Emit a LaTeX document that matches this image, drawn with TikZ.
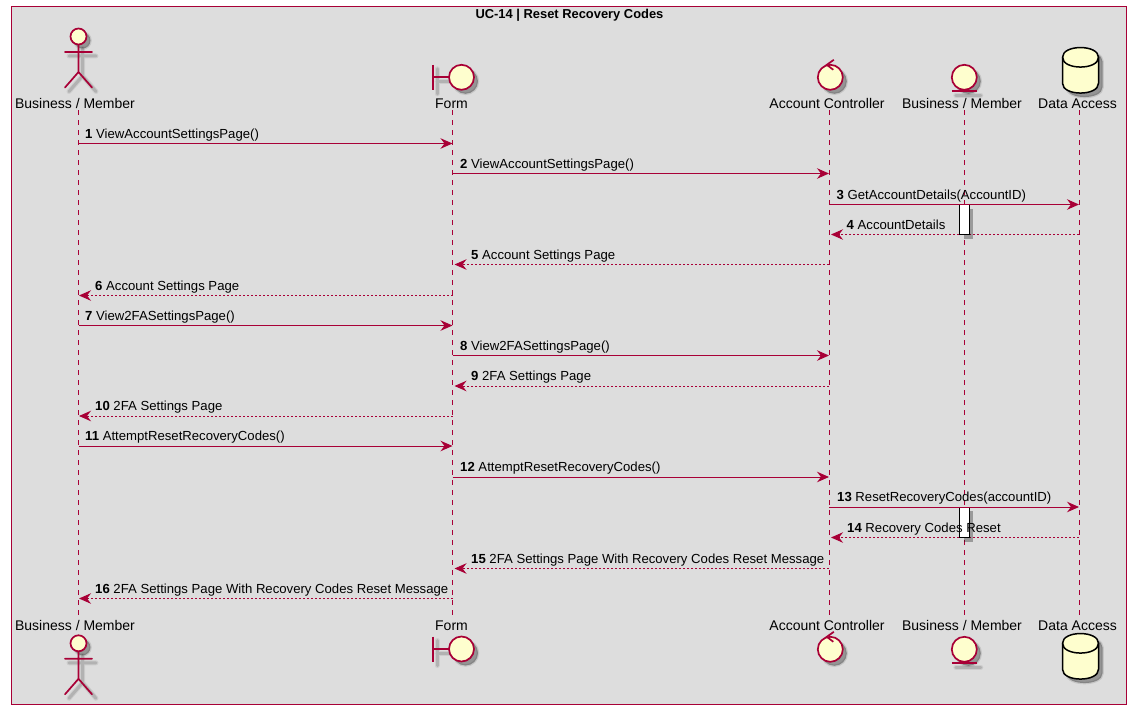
\documentclass[tikz,border=0pt]{standalone}
\usepackage{fontspec}
\setmainfont{Liberation Sans}
\usetikzlibrary{arrows.meta}
\definecolor{puml}{HTML}{A80036}
\definecolor{cream}{HTML}{FEFECE}
\definecolor{bggray}{HTML}{DDDDDD}
\tikzset{
  x=1pt,y=-1pt,
  frame/.style={draw=puml,fill=bggray,line width=1.2pt},
  lifeline/.style={draw=puml,line width=1pt,dash pattern=on 5pt off 5pt},
  icon/.style={draw=puml,fill=cream,line width=1.7pt},
  iconline/.style={draw=puml,line width=1.7pt},
  dbicon/.style={draw=black,fill=cream,line width=1.5pt},
  partlabel/.style={inner sep=0pt,anchor=base,font=\fontsize{14}{16}\selectfont},
  msglabel/.style={inner sep=0pt,anchor=base west,font=\fontsize{13.15}{15}\selectfont},
  titlelabel/.style={inner sep=0pt,anchor=base,font=\fontsize{12.9}{15}\selectfont\bfseries},
  callmsg/.style={draw=puml,line width=1pt,-{Stealth[length=12pt,width=10.5pt,inset=4pt,fill=puml]}},
  retmsg/.style={draw=puml,line width=1pt,dash pattern=on 2pt off 2pt,-{Stealth[length=12pt,width=10.5pt,inset=4pt,fill=puml]}},
  actbar/.style={draw=black,fill=white,line width=1pt},
  sh1/.style={draw=black,draw opacity=.07,line width=5pt,line cap=round,line join=round},
  sh2/.style={draw=black,draw opacity=.13,line width=3pt,line cap=round,line join=round},
  shf/.style={fill=black,fill opacity=.32,draw=black,draw opacity=.10,line width=2.5pt},
}
% soft shadows
\newcommand{\shadowline}[1]{%
  \draw[sh1,shift={(4,4)}] #1; \draw[sh2,shift={(4,4)}] #1;}
\newcommand{\shadowfill}[1]{%
  \path[shf,shift={(4,4)}] #1;}
% icons: centre x, reference y
\newcommand{\actoricon}[2]{%
  \begin{scope}[shift={(#1,#2)}]
    \shadowline{(-13.5,15.5) -- (13.5,15.5) (0,8) -- (0,35.5) (-13.5,51) -- (0,35.5) -- (13.5,51)}
    \shadowfill{(0,0) circle[radius=8]}
    \draw[iconline,line cap=round] (-13.5,15.5) -- (13.5,15.5) (0,8) -- (0,35.5) (-13.5,51) -- (0,35.5) -- (13.5,51);
    \path[icon] (0,0) circle[radius=8];
  \end{scope}}
\newcommand{\boundaryicon}[2]{%
  \begin{scope}[shift={(#1,#2)}]
    \shadowline{(-28.5,-12.5) -- (-28.5,12.5) (-28.5,0) -- (-12.5,0)}
    \shadowfill{(0,0) circle[radius=12.5]}
    \draw[iconline] (-28.5,-12.5) -- (-28.5,12.5) (-28.5,0) -- (-12.5,0);
    \path[icon] (0,0) circle[radius=12.5];
  \end{scope}}
\newcommand{\controlicon}[2]{%
  \begin{scope}[shift={(#1,#2)}]
    \shadowfill{(0,0) circle[radius=12.5]}
    \path[icon] (0,0) circle[radius=12.5];
    \draw[iconline,line join=miter] (3.5,-17.5) -- (-3.5,-12.5) -- (3,-7.5);
  \end{scope}}
\newcommand{\entityicon}[2]{%
  \begin{scope}[shift={(#1,#2)}]
    \shadowline{(-12.5,14) -- (12.5,14)}
    \shadowfill{(0,0) circle[radius=12.5]}
    \draw[iconline] (-12.5,14) -- (12.5,14);
    \path[icon] (0,0) circle[radius=12.5];
  \end{scope}}
\newcommand{\dbicon}[2]{%
  \begin{scope}[shift={(#1,#2)}]
    \shadowfill{(-18,10) .. controls (-18,-3) and (18,-3) .. (18,10) -- (18,36) .. controls (18,49) and (-18,49) .. (-18,36) -- cycle}
    \path[dbicon] (-18,10) .. controls (-18,-3) and (18,-3) .. (18,10) -- (18,36) .. controls (18,49) and (-18,49) .. (-18,36) -- cycle;
    \draw[dbicon,fill=none] (-18,10) .. controls (-18,23) and (18,23) .. (18,10);
  \end{scope}}
% message label: x, arrow y, number, text
\newcommand{\msglab}[4]{%
  \node[msglabel] (t#3) at (#1,#2-5.5) {\textbf{#3} #4};}
\begin{document}
\begin{tikzpicture}
\useasboundingbox (0,0) rectangle (1131,709);
\fill[white] (0,0) rectangle (1131,709);
\path[frame] (11.5,6.5) rectangle (1126.5,704.5);
\node[titlelabel] (title) at (569.5,19) {UC-14 | Reset Recovery Codes};

% participant labels
\node[partlabel] (a) at (75,108) {Business / Member};
\node[partlabel] (b) at (451.5,108) {Form};
\node[partlabel] (c) at (827,108) {Account Controller};
\node[partlabel] (d) at (962,108) {Business / Member};
\node[partlabel] (e) at (1077.5,108) {Data Access};
\node[partlabel] (a2) at (75,630) {Business / Member};
\node[partlabel] (b2) at (451.5,630) {Form};
\node[partlabel] (c2) at (827,630) {Account Controller};
\node[partlabel] (d2) at (962,630) {Business / Member};
\node[partlabel] (e2) at (1077.5,630) {Data Access};

% lifeline ends
\foreach \n/\x in {a/78.5,b/452.5,c/829,d/964.5,e/1079}{
  \coordinate (\n top) at (\x,110);
  \coordinate (\n bot) at (\x,616);
  \draw[lifeline] (\n top) -- (\n bot);
}

% message end points
\foreach \i/\y in {1/143.5,2/173.5,3/204.5,4/234.5,5/264.5,6/295.5,7/325.5,8/355.5,9/386,10/416,11/446,12/477,13/507,14/537.5,15/568.5,16/598.5}{
  \foreach \n/\x in {a/78.5,b/452.5,c/829,e/1079}{
    \coordinate (\n\i) at (\x,\y);
  }
  \coordinate (ar\i) at (79,\y);
  \coordinate (br\i) at (454.5,\y);
  \coordinate (cr\i) at (831,\y);
}

% returns that pass behind the activations
\draw[retmsg] (e4) -- (cr4);
\draw[retmsg] (e14) -- (cr14);

% activations
\path[fill=black,fill opacity=.3] (963.5,208.5) rectangle (973,238.5);
\path[actbar] (959.7,204.5) rectangle (969.3,234.5);
\path[fill=black,fill opacity=.3] (963.5,511) rectangle (973,541.5);
\path[actbar] (959.7,507) rectangle (969.3,537.5);

% icons
\actoricon{78.5}{36.5}
\actoricon{78.5}{643.3}
\boundaryicon{461.5}{77.3}
\boundaryicon{461.5}{649}
\controlicon{830.3}{77.3}
\controlicon{830.3}{649.3}
\entityicon{964.3}{77.3}
\entityicon{964.3}{649.3}
\dbicon{1080.5}{47.3}
\dbicon{1080.5}{633.3}

% messages
\draw[callmsg] (a1) -- (b1);
\draw[callmsg] (b2) -- (c2);
\draw[callmsg] (c3) -- (e3);
\draw[retmsg] (c5) -- (br5);
\draw[retmsg] (b6) -- (ar6);
\draw[callmsg] (a7) -- (b7);
\draw[callmsg] (b8) -- (c8);
\draw[retmsg] (c9) -- (br9);
\draw[retmsg] (b10) -- (ar10);
\draw[callmsg] (a11) -- (b11);
\draw[callmsg] (b12) -- (c12);
\draw[callmsg] (c13) -- (e13);
\draw[retmsg] (c15) -- (br15);
\draw[retmsg] (b16) -- (ar16);

\msglab{85}{143.5}{1}{ViewAccountSettingsPage()}
\msglab{460}{173.5}{2}{ViewAccountSettingsPage()}
\msglab{836.5}{204.5}{3}{GetAccountDetails(AccountID)}
\msglab{846.5}{234.5}{4}{AccountDetails}
\msglab{471}{264.5}{5}{Account Settings Page}
\msglab{95}{295.5}{6}{Account Settings Page}
\msglab{85}{325.5}{7}{View2FASettingsPage()}
\msglab{460}{355.5}{8}{View2FASettingsPage()}
\msglab{471}{386}{9}{2FA Settings Page}
\msglab{95}{416}{10}{2FA Settings Page}
\msglab{85}{446}{11}{AttemptResetRecoveryCodes()}
\msglab{460}{477}{12}{AttemptResetRecoveryCodes()}
\msglab{837}{507}{13}{ResetRecoveryCodes(accountID)}
\msglab{847}{537.5}{14}{Recovery Codes Reset}
\msglab{471}{568.5}{15}{2FA Settings Page With Recovery Codes Reset Message}
\msglab{95}{598.5}{16}{2FA Settings Page With Recovery Codes Reset Message}
\end{tikzpicture}
\end{document}
